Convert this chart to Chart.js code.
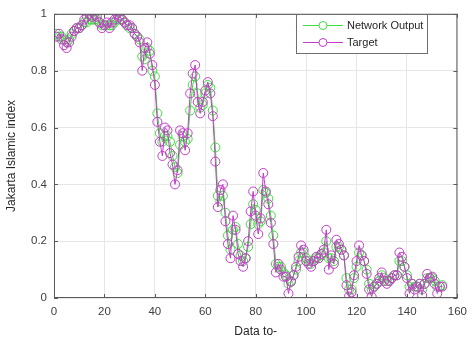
<!DOCTYPE html>
<html>
<head>
<meta charset="utf-8">
<script src="https://cdn.jsdelivr.net/npm/chart.js@4.4.1/dist/chart.umd.min.js"></script>
<style>
  html, body { margin: 0; padding: 0; background: #fff; }
  #wrap { width: 474px; height: 343px; }
</style>
</head>
<body>
<div id="wrap"><canvas id="jiiChart" width="474" height="343"></canvas></div>
<script>
// Data (index 1..154)
const target = [
  0.92, 0.93, 0.91, 0.89, 0.88, 0.90, 0.92, 0.94, 0.95, 0.95,
  0.96, 0.98, 0.99, 1.00, 0.99, 1.00, 0.99, 0.97, 0.95, 0.96,
  0.97, 0.95, 0.97, 0.98, 1.00, 0.99, 0.98, 0.97, 0.96, 0.96,
  0.95, 0.93, 0.92, 0.90, 0.80, 0.88, 0.90, 0.86, 0.82, 0.75,
  0.62, 0.55, 0.50, 0.60, 0.59, 0.51, 0.47, 0.40, 0.45, 0.59,
  0.58, 0.52, 0.58, 0.72, 0.79, 0.82, 0.69, 0.65, 0.69, 0.73,
  0.76, 0.72, 0.64, 0.48, 0.32, 0.38, 0.40, 0.27, 0.19, 0.14,
  0.29, 0.24, 0.155, 0.13, 0.11, 0.14, 0.20, 0.305, 0.375, 0.29,
  0.225, 0.28, 0.44, 0.375, 0.33, 0.265, 0.19, 0.09, 0.12, 0.10,
  0.075, 0.075, 0.016, 0.057, 0.08, 0.11, 0.145, 0.185, 0.17, 0.13,
  0.12, 0.11, 0.13, 0.145, 0.14, 0.155, 0.17, 0.24, 0.10, 0.15,
  0.12, 0.205, 0.19, 0.17, 0.15, 0.045, 0.005, 0.02, 0.08, 0.13,
  0.185, 0.15, 0.13, 0.085, 0.03, 0.005, 0.04, 0.05, 0.07, 0.09,
  0.06, 0.05, 0.06, 0.07, 0.08, 0.08, 0.16, 0.145, 0.11, 0.07,
  0.016, 0.05, 0.03, 0.04, 0.05, 0.01, 0.05, 0.085, 0.07, 0.075,
  0.05, 0.016, 0.04, 0.04
];

const networkOutput = [
  0.93, 0.92, 0.92, 0.91, 0.90, 0.91, 0.93, 0.94, 0.95, 0.95,
  0.96, 0.97, 0.97, 0.98, 0.98, 0.98, 0.98, 0.97, 0.96, 0.96,
  0.96, 0.96, 0.96, 0.97, 0.98, 0.98, 0.98, 0.97, 0.96, 0.95,
  0.95, 0.93, 0.92, 0.91, 0.85, 0.84, 0.88, 0.87, 0.80, 0.78,
  0.65, 0.58, 0.55, 0.57, 0.57, 0.55, 0.50, 0.46, 0.44, 0.54,
  0.57, 0.55, 0.56, 0.66, 0.75, 0.78, 0.72, 0.67, 0.68, 0.72,
  0.75, 0.74, 0.66, 0.53, 0.36, 0.34, 0.36, 0.30, 0.22, 0.17,
  0.24, 0.25, 0.19, 0.15, 0.13, 0.14, 0.18, 0.26, 0.33, 0.31,
  0.26, 0.27, 0.38, 0.37, 0.35, 0.29, 0.22, 0.12, 0.11, 0.11,
  0.09, 0.08, 0.05, 0.06, 0.08, 0.10, 0.13, 0.16, 0.16, 0.14,
  0.13, 0.12, 0.13, 0.14, 0.14, 0.15, 0.16, 0.20, 0.14, 0.14,
  0.13, 0.18, 0.18, 0.17, 0.15, 0.07, 0.03, 0.03, 0.07, 0.11,
  0.16, 0.15, 0.13, 0.10, 0.05, 0.03, 0.04, 0.05, 0.06, 0.08,
  0.07, 0.06, 0.06, 0.07, 0.08, 0.08, 0.13, 0.13, 0.11, 0.08,
  0.04, 0.05, 0.04, 0.04, 0.05, 0.03, 0.05, 0.07, 0.07, 0.07,
  0.06, 0.04, 0.04, 0.045
];

const xTicks = [0, 20, 40, 60, 80, 100, 120, 140, 160];
const yTicks = [0, 0.2, 0.4, 0.6, 0.8, 1];

const greenColor = '#3fdc3f';
const magentaColor = '#c23cc8';

const toPoints = arr => arr.map((v, i) => ({ x: i + 1, y: v }));

// MATLAB-like box, inward ticks and legend
const matlabBox = {
  id: 'matlabBox',
  afterDraw(chart) {
    const { ctx, chartArea: a, scales } = chart;
    ctx.save();
    ctx.strokeStyle = '#5a5a5a';
    ctx.lineWidth = 1;
    ctx.strokeRect(a.left + 0.5, a.top + 0.5, a.right - a.left - 1, a.bottom - a.top - 1);
    ctx.beginPath();
    xTicks.forEach(t => {
      const px = Math.round(scales.x.getPixelForValue(t)) + 0.5;
      ctx.moveTo(px, a.bottom); ctx.lineTo(px, a.bottom - 4);
      ctx.moveTo(px, a.top); ctx.lineTo(px, a.top + 4);
    });
    yTicks.forEach(t => {
      const py = Math.round(scales.y.getPixelForValue(t)) + 0.5;
      ctx.moveTo(a.left, py); ctx.lineTo(a.left + 4, py);
      ctx.moveTo(a.right, py); ctx.lineTo(a.right - 4, py);
    });
    ctx.stroke();

    // legend
    const lx = 296, ly = 14, lw = 131, lh = 39;
    ctx.fillStyle = '#fff';
    ctx.fillRect(lx, ly, lw, lh);
    ctx.strokeStyle = '#6e6e6e';
    ctx.strokeRect(lx + 0.5, ly + 0.5, lw, lh);
    const items = [
      { label: 'Network Output', color: greenColor, y: ly + 11 },
      { label: 'Target', color: magentaColor, y: ly + 28 }
    ];
    ctx.font = '11px "Liberation Sans", Arial, sans-serif';
    ctx.textBaseline = 'middle';
    items.forEach(it => {
      ctx.strokeStyle = it.color;
      ctx.beginPath();
      ctx.moveTo(lx + 7, it.y + 0.5);
      ctx.lineTo(lx + 47, it.y + 0.5);
      ctx.stroke();
      ctx.fillStyle = '#fff';
      ctx.beginPath();
      ctx.arc(lx + 27, it.y + 0.5, 4, 0, Math.PI * 2);
      ctx.fill();
      ctx.stroke();
      ctx.fillStyle = '#262626';
      ctx.fillText(it.label, lx + 51, it.y + 1);
    });
    ctx.restore();
  }
};

const ctx = document.getElementById('jiiChart').getContext('2d');
const jiiChart = new Chart(ctx, {
  type: 'line',
  data: {
    datasets: [
      {
        label: 'Target',
        data: toPoints(target),
        borderColor: magentaColor,
        backgroundColor: 'rgba(0,0,0,0)',
        borderWidth: 1,
        pointRadius: 4.5,
        pointBorderWidth: 1,
        pointBorderColor: magentaColor,
        pointBackgroundColor: 'rgba(0,0,0,0)',
        tension: 0
      },
      {
        label: 'Network Output',
        data: toPoints(networkOutput),
        borderColor: greenColor,
        backgroundColor: 'rgba(0,0,0,0)',
        borderWidth: 1,
        pointRadius: 4.5,
        pointBorderWidth: 1,
        pointBorderColor: greenColor,
        pointBackgroundColor: 'rgba(0,0,0,0)',
        tension: 0
      }
    ]
  },
  options: {
    responsive: false,
    animation: false,
    layout: { padding: { top: 10, right: 8, left: 0, bottom: 0 } },
    plugins: {
      legend: { display: false },
      tooltip: { enabled: false }
    },
    scales: {
      x: {
        type: 'linear',
        min: 0,
        max: 160,
        afterBuildTicks: scale => { scale.ticks = xTicks.map(v => ({ value: v })); },
        afterFit: scale => { scale.height = 45; },
        grid: { color: '#e6e6e6', drawTicks: false },
        border: { display: false },
        ticks: {
          padding: 7,
          color: '#404040',
          font: { family: '"Liberation Sans", Arial, sans-serif', size: 11.5 },
          maxRotation: 0
        },
        title: {
          display: true,
          text: 'Data to-',
          color: '#262626',
          padding: { top: 2 },
          font: { family: '"Liberation Sans", Arial, sans-serif', size: 12 }
        }
      },
      y: {
        min: 0,
        max: 1,
        afterBuildTicks: scale => { scale.ticks = yTicks.map(v => ({ value: v })); },
        afterFit: scale => { scale.width = 54; },
        grid: { color: '#e6e6e6', drawTicks: false },
        border: { display: false },
        ticks: {
          padding: 7,
          color: '#404040',
          font: { family: '"Liberation Sans", Arial, sans-serif', size: 11.5 },
          callback: v => String(Math.round(v * 10) / 10)
        },
        title: {
          display: true,
          text: 'Jakarta Islamic index',
          color: '#262626',
          padding: { bottom: 2 },
          font: { family: '"Liberation Sans", Arial, sans-serif', size: 12 }
        }
      }
    }
  },
  plugins: [matlabBox]
});
</script>
</body>
</html>
